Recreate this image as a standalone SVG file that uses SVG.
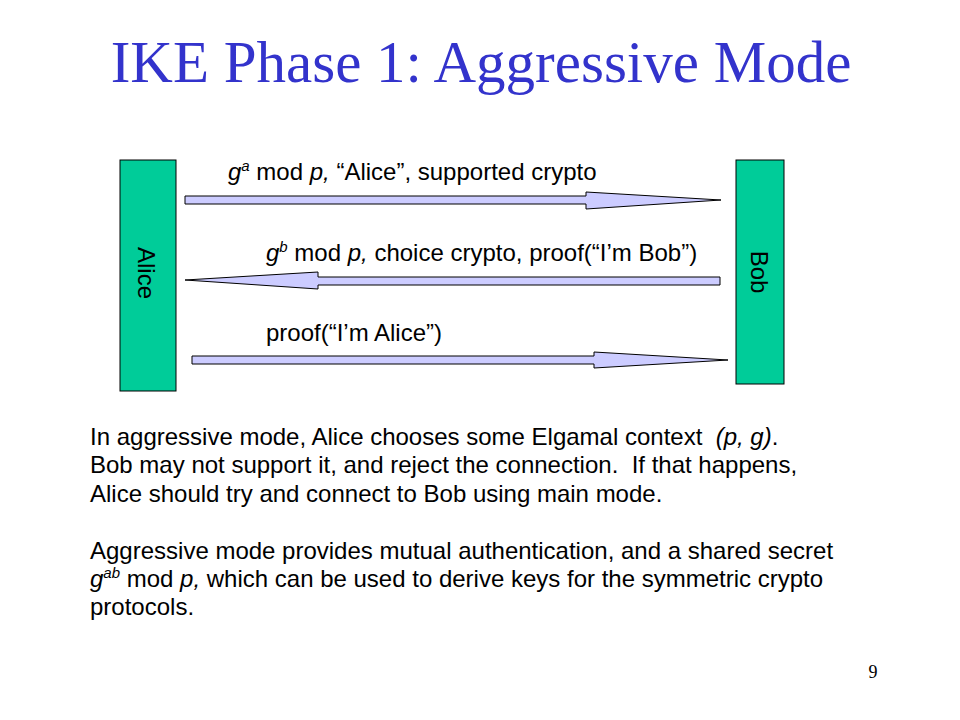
<svg xmlns="http://www.w3.org/2000/svg" width="960" height="720" viewBox="0 0 960 720">
<style>
.t{font-family:"Liberation Sans",Arial,sans-serif;font-size:24px;fill:#000;white-space:pre}
.title{font-family:"Liberation Serif","Times New Roman",serif;font-size:59px;fill:#3333CC}
.party{fill:#00CC99;stroke:#000;stroke-width:1}
.arr{fill:#CCCCFF;stroke:#000;stroke-width:1}
.sup{font-size:15px;font-style:italic}
.i{font-style:italic}
</style>
<rect width="960" height="720" fill="#fff"/>
<text class="title" x="481" y="82" text-anchor="middle">IKE Phase 1: Aggressive Mode</text>
<g id="alice">
<rect class="party" x="120" y="160" width="56" height="231"/>
<text class="t" transform="translate(138,273) rotate(90)" text-anchor="middle">Alice</text>
</g>
<g id="bob">
<rect class="party" x="736" y="160" width="48" height="224"/>
<text class="t" transform="translate(751,272) rotate(90)" text-anchor="middle">Bob</text>
</g>
<g id="connectors">
<polygon class="arr" points="185,196 586,196 586,192 721,200 586,209 586,204 185,204"/>
<polygon class="arr" points="720,277 318,277 318,272 185,280 318,289 318,285 720,285"/>
<polygon class="arr" points="192,356 594,356 594,352 728,360 594,368 594,364 192,364"/>
</g>
<g id="labels">
<text class="t" x="228" y="180"><tspan class="i">g</tspan><tspan class="sup" dy="-9">a</tspan><tspan dy="9"> mod </tspan><tspan class="i">p,</tspan> “Alice”, supported crypto</text>
<text class="t" x="266" y="261"><tspan class="i">g</tspan><tspan class="sup" dy="-9">b</tspan><tspan dy="9"> mod </tspan><tspan class="i">p,</tspan> choice crypto, proof(“I’m Bob”)</text>
<text class="t" x="266" y="341">proof(“I’m Alice”)</text>
</g>
<g id="body">
<text class="t" x="90" y="445" xml:space="preserve">In aggressive mode, Alice chooses some Elgamal context  <tspan class="i">(p, g)</tspan>.</text>
<text class="t" x="90" y="473" xml:space="preserve">Bob may not support it, and reject the connection.  If that happens,</text>
<text class="t" x="90" y="502">Alice should try and connect to Bob using main mode.</text>
<text class="t" x="90" y="559">Aggressive mode provides mutual authentication, and a shared secret</text>
<text class="t" x="90" y="587"><tspan class="i">g</tspan><tspan class="sup" dy="-9">ab</tspan><tspan dy="9"> mod </tspan><tspan class="i">p,</tspan> which can be used to derive keys for the symmetric crypto</text>
<text class="t" x="90" y="615">protocols.</text>
</g>
<text x="873" y="678" text-anchor="middle" font-family="Liberation Serif,'Times New Roman',serif" font-size="18" fill="#000">9</text>
</svg>
